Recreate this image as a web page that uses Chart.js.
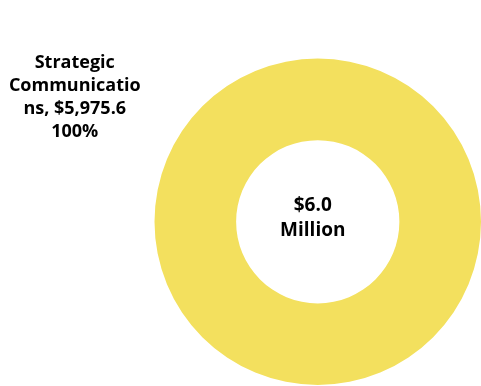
<!DOCTYPE html>
<html>
<head>
<meta charset="utf-8">
<script src="https://cdn.jsdelivr.net/npm/chart.js@4.4.1/dist/chart.umd.min.js"></script>
<style>
  html, body { margin: 0; padding: 0; background: #ffffff; overflow: hidden; }
  #wrap { position: relative; width: 481px; height: 386px; }
</style>
</head>
<body>
<div id="wrap"><canvas id="chart" width="481" height="386"></canvas></div>
<script>
// Budget by program area (thousands of dollars)
const categories = ['Strategic Communications'];
const amounts = [5975.6];
const sliceColors = ['#F3E05E'];

const total = amounts.reduce((a, b) => a + b, 0);
const fmtThousands = v => v.toLocaleString('en-US', { minimumFractionDigits: 1, maximumFractionDigits: 1 });
const centerLines = ['$' + (total / 1000).toFixed(1), 'Million'];

// Wrap text to a max number of characters per line, splitting long words like a narrow text box does
function wrapChars(text, maxChars) {
  const lines = [];
  let line = '';
  for (const word of text.split(' ')) {
    let w = word;
    let candidate = line ? line + ' ' + w : w;
    if (candidate.length <= maxChars) { line = candidate; continue; }
    if (line) { lines.push(line); line = ''; }
    while (w.length > maxChars) { lines.push(w.slice(0, maxChars)); w = w.slice(maxChars); }
    line = w;
  }
  if (line) lines.push(line);
  return lines;
}

const FONT = '"Open Sans", "Liberation Sans", sans-serif';

const labelPlugin = {
  id: 'sliceLabels',
  afterDatasetsDraw(chart) {
    const ctx = chart.ctx;
    const meta = chart.getDatasetMeta(0);
    const arc = meta.data[0];
    ctx.save();
    ctx.fillStyle = '#000000';
    ctx.textAlign = 'center';
    ctx.textBaseline = 'middle';

    // Centre total
    ctx.font = 'bold 19px ' + FONT;
    ctx.fillText(centerLines[0], arc.x - 5, arc.y - 16);
    ctx.fillText(centerLines[1], arc.x - 5, arc.y + 9);

    // Outside category label
    const ds = chart.data.datasets[0];
    const v = ds.data[0];
    const pct = Math.round(v / total * 100) + '%';
    const lines = wrapChars(chart.data.labels[0] + ', $' + fmtThousands(v), 12).concat([pct]);
    ctx.font = 'bold 18px ' + FONT;
    const lx = arc.x - 243, ly = arc.y - 159, lh = 23;
    lines.forEach((t, i) => ctx.fillText(t, lx, ly + i * lh));
    ctx.restore();
  }
};

new Chart(document.getElementById('chart'), {
  type: 'doughnut',
  data: {
    labels: categories,
    datasets: [{
      data: amounts,
      backgroundColor: sliceColors,
      borderWidth: 0,
      hoverOffset: 0
    }]
  },
  options: {
    responsive: false,
    animation: false,
    cutout: '50%',
    layout: { padding: { left: 154.5, right: -2.5, top: 57.5, bottom: -0.5 } },
    plugins: { legend: { display: false }, tooltip: { enabled: false } }
  },
  plugins: [labelPlugin]
});
</script>
</body>
</html>
